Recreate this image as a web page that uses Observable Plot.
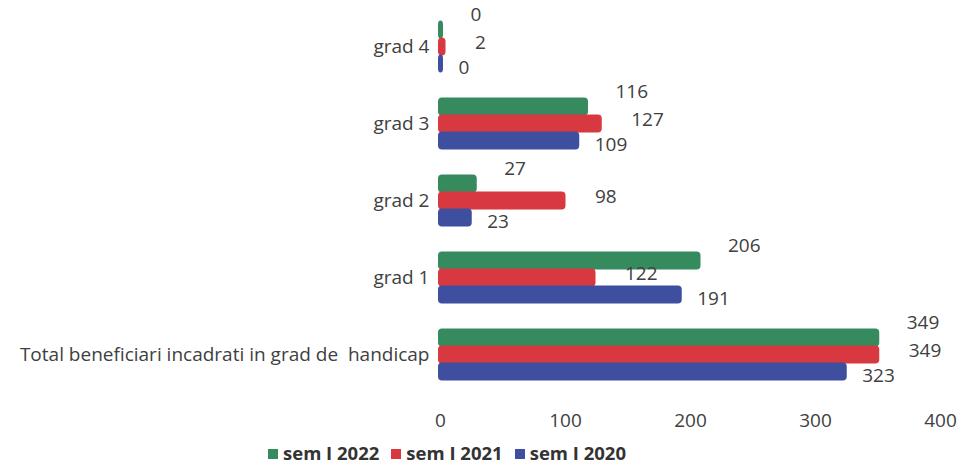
<!DOCTYPE html>
<html>
<head>
<meta charset="utf-8">
<script src="https://cdn.jsdelivr.net/npm/d3@7"></script>
<script src="https://cdn.jsdelivr.net/npm/@observablehq/plot@0.6"></script>
<style>
  html, body { margin: 0; padding: 0; background: #fff; }
  #wrap { position: relative; width: 969px; height: 464px; font-family: "Open Sans", sans-serif; }
  #legend { position: absolute; left: 268px; top: 440px; display: flex; gap: 12px; font-weight: bold; font-size: 18.5px; color: #333; }
  #legend span.sw { display: inline-block; width: 10px; height: 10px; margin-right: 5px; vertical-align: 1px; }
  svg text { white-space: pre; }
  #chart svg g[aria-label*="axis"] text { font-size: 19px !important; }
</style>
</head>
<body>
<div id="wrap"><div id="chart"></div><div id="legend"></div></div>
<script>
const categories = ["grad 4", "grad 3", "grad 2", "grad 1", "Total beneficiari incadrati in grad de  handicap"];
const series = ["sem I 2022", "sem I 2021", "sem I 2020"];
const v2022 = [0, 116, 27, 206, 349];
const v2021 = [2, 127, 98, 122, 349];
const v2020 = [0, 109, 23, 191, 323];
const xTicks = [0, 100, 200, 300, 400];
const colors = ["#358a5e", "#d8383f", "#3f4fa0"];

const valuesBySeries = [v2022, v2021, v2020];
const rows = [];
categories.forEach((c, i) => {
  series.forEach((s, j) => rows.push({category: c, series: s, value: valuesBySeries[j][i]}));
});

const offsets = {
  "sem I 2022": {dx: 30, dy: -15},
  "sem I 2021": {dx: 32, dy: -4},
  "sem I 2020": {dx: 18, dy: 4}
};

const textMarks = series.map(s => Plot.text(rows, {
  filter: d => d.series === s,
  x: "value", y: "series", text: d => String(d.value),
  textAnchor: "start", fill: "#404040", fontSize: 19,
  dx: offsets[s].dx, dy: offsets[s].dy
}));

const chart = Plot.plot({
  width: 969, height: 440,
  marginLeft: 440, marginRight: 29, marginTop: 6, marginBottom: 46,
  style: {fontSize: "17px", fontFamily: "'Open Sans', sans-serif", color: "#404040", background: "#fff"},
  facet: {data: rows, y: "category"},
  fy: {domain: categories, padding: 0, label: null, axis: "left", tickSize: 0, tickPadding: 11},
  x: {domain: [0, 400], ticks: xTicks, tickSize: 0, tickPadding: 20, label: null},
  y: {domain: series, axis: null, paddingInner: 0, paddingOuter: 0.7},
  color: {domain: series, range: colors},
  marks: [
    Plot.barX(rows, {x: "value", y: "series", fill: "series", insetLeft: -2, insetRight: -3, insetTop: -0.5, insetBottom: -0.5, rx: 4}),
    ...textMarks
  ]
});
document.getElementById("chart").appendChild(chart);

const legend = document.getElementById("legend");
series.forEach((s, i) => {
  const item = document.createElement("div");
  item.innerHTML = `<span class="sw" style="background:${colors[i]}"></span>${s}`;
  legend.appendChild(item);
});
</script>
</body>
</html>
